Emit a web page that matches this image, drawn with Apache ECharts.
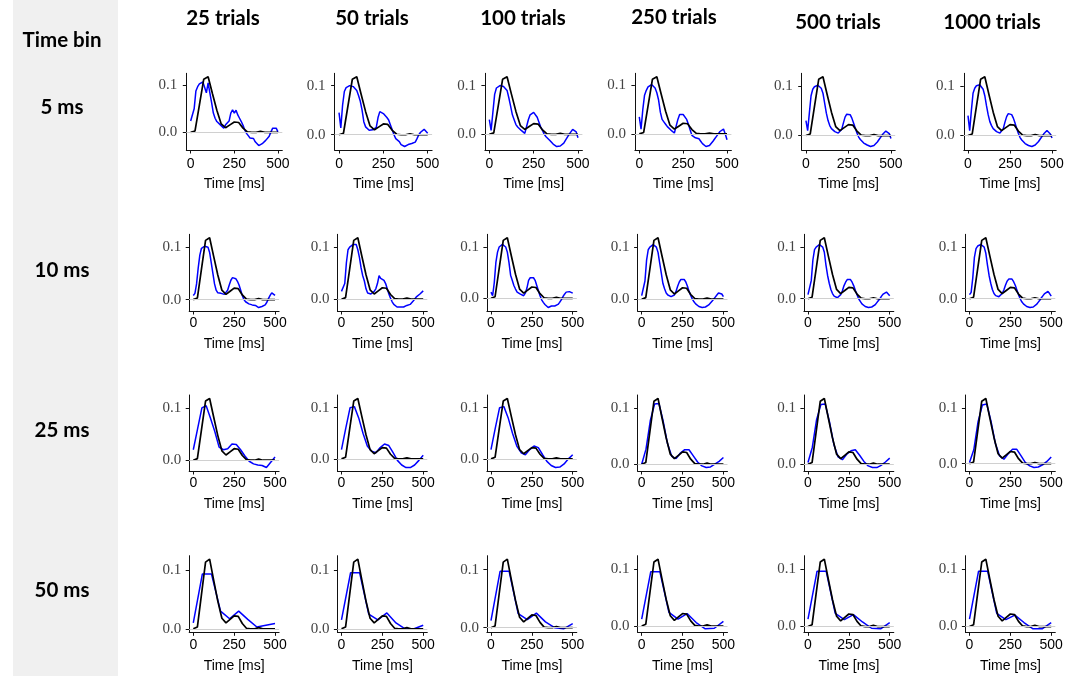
<!DOCTYPE html>
<html><head><meta charset="utf-8">
<script src="https://cdn.jsdelivr.net/npm/echarts@6/dist/echarts.min.js"></script>
<style>html,body{margin:0;padding:0;background:#fff}#c{width:1080px;height:676px}</style>
</head><body><div id="c"></div><script>
// ---------- data ----------
const columnTitles = ['25 trials', '50 trials', '100 trials', '250 trials', '500 trials', '1000 trials'];
const rowTitles = ['5 ms', '10 ms', '25 ms', '50 ms'];
const cornerTitle = 'Time bin';
const xAxisName = 'Time [ms]';
const xTickValues = [0, 250, 500];
const yTickValues = [0, 0.1];

const kernelTimes = [0, 25, 50, 75, 100, 125, 150, 175, 200, 225, 250, 275, 300, 325, 350, 375, 400, 425, 450, 475, 500];
const trueKernel = [0, 0.003, 0.058, 0.113, 0.118, 0.082, 0.047, 0.018, 0.010, 0.016, 0.022, 0.021, 0.009, 0.001, 0.000, 0.000, 0.002, 0.000, 0.000, 0.000, 0.000];

const times10 = Array.from({length: 51}, (_, k) => k * 10);
const times25 = [0, 26.3, 52.6, 78.9, 105.3, 131.6, 157.9, 184.2, 210.5, 236.8, 263.2, 289.5, 315.8, 342.1, 368.4, 394.7, 421.1, 447.4, 473.7, 500];
const times50 = [0, 55.6, 111.1, 166.7, 222.2, 277.8, 333.3, 388.9, 444.4, 500];

// 5 ms bins
const bin5_25 = [0.024, 0.023, 0.05, 0.088, 0.097, 0.103, 0.105, 0.107, 0.11, 0.084,
  0.105, 0.084, 0.063, 0.041, 0.03, 0.023, 0.019, 0.016, 0.012, 0.009,
  0.016, 0.02, 0.024, 0.041, 0.048, 0.041, 0.047, 0.037, 0.03, 0.023,
  0.015, 0.005, -0.002, -0.007, -0.012, -0.015, -0.013, -0.02, -0.022, -0.028,
  -0.03, -0.024, -0.02, -0.017, -0.013, -0.008, 0.001, 0.009, 0.009, 0.009, 0.001];
const bin5_50 = [0.045, 0.014, 0.06, 0.088, 0.096, 0.1, 0.1, 0.101, 0.098, 0.095,
  0.09, 0.08, 0.068, 0.05, 0.026, 0.016, 0.012, 0.009, 0.009, 0.01,
  0.012, 0.015, 0.035, 0.047, 0.045, 0.043, 0.04, 0.035, 0.03, 0.02,
  0.01, 0.0, -0.008, -0.01, -0.014, -0.02, -0.018, -0.024, -0.02, -0.02,
  -0.021, -0.018, -0.02, -0.015, -0.008, 0.0, 0.005, 0.009, 0.011, 0.012, 0.003];
const bin5_100 = [0.03, 0.008, 0.045, 0.082, 0.095, 0.098, 0.1, 0.1, 0.098, 0.095,
  0.09, 0.075, 0.058, 0.04, 0.03, 0.02, 0.015, 0.012, 0.008, 0.005,
  0.002, 0.0, 0.03, 0.04, 0.042, 0.045, 0.043, 0.035, 0.025, 0.015,
  0.008, 0.0, -0.005, -0.008, -0.012, -0.015, -0.02, -0.024, -0.025, -0.025,
  -0.024, -0.02, -0.018, -0.012, -0.008, 0.0, 0.005, 0.01, 0.012, 0.005, -0.007];
const bin5_250 = [0.035, 0.01, 0.05, 0.08, 0.09, 0.097, 0.1, 0.102, 0.1, 0.095,
  0.085, 0.07, 0.045, 0.03, 0.025, 0.02, 0.015, 0.012, 0.008, 0.005,
  0.002, 0.005, 0.03, 0.04, 0.043, 0.04, 0.038, 0.03, 0.02, 0.008,
  -0.003, -0.006, -0.008, -0.01, -0.01, -0.015, -0.02, -0.024, -0.026, -0.026,
  -0.024, -0.02, -0.015, -0.01, -0.005, 0.0, 0.005, 0.008, 0.01, 0.0, -0.012];
const bin5_500 = [0.03, 0.01, 0.045, 0.08, 0.093, 0.098, 0.1, 0.101, 0.1, 0.095,
  0.085, 0.065, 0.045, 0.03, 0.02, 0.014, 0.01, 0.008, 0.006, 0.005,
  0.006, 0.012, 0.025, 0.037, 0.043, 0.045, 0.042, 0.035, 0.025, 0.015,
  0.005, -0.003, -0.008, -0.012, -0.015, -0.017, -0.019, -0.021, -0.022, -0.022,
  -0.02, -0.017, -0.013, -0.008, -0.003, 0.002, 0.006, 0.009, 0.01, 0.004, -0.006];
const bin5_1000 = [0.04, 0.01, 0.05, 0.085, 0.095, 0.1, 0.101, 0.102, 0.1, 0.093,
  0.08, 0.06, 0.042, 0.028, 0.02, 0.014, 0.01, 0.008, 0.006, 0.005,
  0.007, 0.014, 0.027, 0.038, 0.044, 0.045, 0.042, 0.035, 0.025, 0.014,
  0.004, -0.004, -0.009, -0.013, -0.016, -0.018, -0.02, -0.021, -0.022, -0.021,
  -0.019, -0.016, -0.012, -0.007, -0.002, 0.003, 0.007, 0.01, 0.01, 0.003, -0.005];

// 10 ms bins
const bin10_25 = [0.008, 0.012, 0.03, 0.06, 0.085, 0.098, 0.1, 0.102, 0.104, 0.1,
  0.09, 0.07, 0.05, 0.03, 0.018, 0.013, 0.013, 0.012, 0.012, 0.01,
  0.012, 0.018, 0.028, 0.037, 0.042, 0.043, 0.04, 0.035, 0.028, 0.018,
  0.008, 0.0, -0.004, -0.007, -0.008, -0.01, -0.01, -0.01, -0.011, -0.013,
  -0.015, -0.014, -0.013, -0.012, -0.01, -0.005, 0.002, 0.008, 0.013, 0.012, 0.008];
const bin10_50 = [0.015, 0.015, 0.03, 0.07, 0.095, 0.1, 0.102, 0.105, 0.106, 0.105,
  0.095, 0.08, 0.06, 0.045, 0.035, 0.02, 0.012, 0.01, 0.01, 0.012,
  0.015, 0.02, 0.03, 0.045, 0.04, 0.04, 0.036, 0.03, 0.02, 0.01,
  0.002, -0.005, -0.01, -0.012, -0.015, -0.015, -0.015, -0.016, -0.015, -0.013,
  -0.012, -0.01, -0.01, -0.007, -0.003, 0.0, 0.005, 0.008, 0.01, 0.013, 0.016];
const bin10_100 = [0.012, 0.005, 0.03, 0.07, 0.09, 0.1, 0.103, 0.105, 0.104, 0.1,
  0.09, 0.07, 0.045, 0.035, 0.025, 0.018, 0.012, 0.01, 0.008, 0.005,
  0.005, 0.01, 0.02, 0.035, 0.04, 0.042, 0.04, 0.035, 0.025, 0.015,
  0.005, -0.003, -0.008, -0.012, -0.015, -0.018, -0.017, -0.015, -0.016, -0.015,
  -0.015, -0.012, -0.008, -0.003, 0.003, 0.008, 0.012, 0.015, 0.013, 0.01, 0.01];
const bin10_250 = [0.007, 0.01, 0.035, 0.075, 0.095, 0.1, 0.102, 0.105, 0.106, 0.1,
  0.09, 0.07, 0.05, 0.03, 0.02, 0.012, 0.008, 0.006, 0.005, 0.005,
  0.008, 0.015, 0.025, 0.033, 0.038, 0.04, 0.038, 0.033, 0.025, 0.015,
  0.007, 0.0, -0.005, -0.009, -0.012, -0.014, -0.015, -0.016, -0.016, -0.015,
  -0.013, -0.011, -0.008, -0.004, 0.0, 0.004, 0.008, 0.012, 0.013, 0.01, 0.005];
const bin10_500 = [0.008, 0.01, 0.035, 0.075, 0.095, 0.1, 0.103, 0.105, 0.106, 0.1,
  0.09, 0.065, 0.045, 0.03, 0.018, 0.01, 0.005, 0.003, 0.002, 0.004,
  0.008, 0.015, 0.025, 0.032, 0.037, 0.039, 0.037, 0.032, 0.025, 0.016,
  0.008, 0.0, -0.005, -0.01, -0.013, -0.015, -0.016, -0.017, -0.017, -0.016,
  -0.015, -0.012, -0.008, -0.004, 0.0, 0.005, 0.009, 0.012, 0.013, 0.01, 0.006];
const bin10_1000 = [0.008, 0.012, 0.04, 0.08, 0.097, 0.102, 0.104, 0.105, 0.105, 0.1,
  0.088, 0.065, 0.045, 0.03, 0.018, 0.01, 0.006, 0.004, 0.004, 0.006,
  0.01, 0.017, 0.026, 0.034, 0.038, 0.04, 0.038, 0.033, 0.026, 0.017,
  0.008, 0.0, -0.006, -0.01, -0.013, -0.015, -0.016, -0.017, -0.017, -0.016,
  -0.014, -0.011, -0.007, -0.003, 0.002, 0.006, 0.01, 0.013, 0.014, 0.01, 0.005];

// 25 ms bins
const bin25_25 = [0.02, 0.06, 0.1, 0.104, 0.08, 0.055, 0.025, 0.02, 0.022, 0.031, 0.03, 0.02, 0.008, -0.002, -0.007, -0.009, -0.01, -0.014, -0.004, 0.006];
const bin25_50 = [0.018, 0.06, 0.1, 0.102, 0.08, 0.05, 0.025, 0.015, 0.012, 0.022, 0.029, 0.026, 0.012, -0.003, -0.012, -0.017, -0.017, -0.012, -0.003, 0.007];
const bin25_100 = [0.018, 0.06, 0.1, 0.102, 0.08, 0.05, 0.025, 0.012, 0.008, 0.018, 0.025, 0.022, 0.008, -0.005, -0.013, -0.017, -0.016, -0.01, 0.0, 0.008];
const bin25_250 = [0.0, 0.027, 0.078, 0.108, 0.109, 0.077, 0.037, 0.014, 0.01, 0.02, 0.026, 0.026, 0.015, 0.004, -0.003, -0.006, -0.005, 0.0, 0.005, 0.012];
const bin25_500 = [0.003, 0.03, 0.08, 0.107, 0.108, 0.076, 0.036, 0.013, 0.008, 0.018, 0.024, 0.026, 0.016, 0.005, -0.003, -0.006, -0.006, -0.002, 0.004, 0.011];
const bin25_1000 = [0.002, 0.025, 0.076, 0.106, 0.108, 0.077, 0.037, 0.014, 0.008, 0.018, 0.026, 0.026, 0.014, 0.002, -0.004, -0.007, -0.006, -0.002, 0.004, 0.012];

// 50 ms bins
const bin50_25 = [0.01, 0.093, 0.093, 0.03, 0.017, 0.03, 0.016, 0.003, 0.006, 0.009];
const bin50_50 = [0.015, 0.095, 0.095, 0.025, 0.015, 0.027, 0.01, 0.0, 0.0, 0.006];
const bin50_100 = [0.012, 0.097, 0.097, 0.024, 0.014, 0.025, 0.01, 0.0, -0.002, 0.007];
const bin50_250 = [0.012, 0.096, 0.096, 0.024, 0.012, 0.022, 0.006, -0.005, -0.004, 0.008];
const bin50_500 = [0.013, 0.097, 0.097, 0.023, 0.012, 0.021, 0.008, -0.003, -0.004, 0.007];
const bin50_1000 = [0.013, 0.097, 0.097, 0.023, 0.012, 0.02, 0.007, -0.004, -0.004, 0.007];

const rowTimes = [times10, times10, times25, times50];
const estimates = [
  [bin5_25, bin5_50, bin5_100, bin5_250, bin5_500, bin5_1000],
  [bin10_25, bin10_50, bin10_100, bin10_250, bin10_500, bin10_1000],
  [bin25_25, bin25_50, bin25_100, bin25_250, bin25_500, bin25_1000],
  [bin50_25, bin50_50, bin50_100, bin50_250, bin50_500, bin50_1000]
];

// ---------- layout ----------
const rowTop = [73.3, 234.3, 395, 555.7];
const rowHeight = [76.7, 76.7, 76, 76.6];
const colLeft = [
  [186.3, 334.6, 484.9, 634.9, 801.7, 963.8],
  [189.2, 337.4, 486.9, 637.6, 803.9, 965.4],
  [189.2, 337.4, 486.9, 637.6, 803.9, 965.4],
  [189.2, 337.4, 486.9, 637.6, 803.9, 965.4]
];
const colWidth = [
  [96, 97.5, 97.5, 96.5, 93.5, 92.4],
  [89.9, 89.9, 89.9, 89.9, 89.9, 89.9],
  [89.9, 89.9, 89.9, 89.9, 89.9, 89.9],
  [89.9, 89.9, 89.9, 89.9, 89.9, 89.9]
];
const xLabelMargin = [7, 5.5, 5.5, 5.5];
const xNameGap = [27, 26.5, 26.5, 26.5];
const yLabelMargin = [9, 8, 8, 8];
const colTitlePos = [[223, 18], [372, 18], [523, 18], [674, 17], [838, 22], [992, 22]];
const rowTitleY = [107, 270, 430, 590];

const grid = [], xAxis = [], yAxis = [], series = [];
const pad = v => 0.05 * (v.max - v.min);
for (let r = 0; r < 4; r++) {
  for (let c = 0; c < 6; c++) {
    const i = r * 6 + c;
    grid.push({left: colLeft[r][c], top: rowTop[r], width: colWidth[r][c], height: rowHeight[r]});
    xAxis.push({
      type: 'value', gridIndex: i, min: -25, max: 525,
      name: xAxisName, nameLocation: 'middle', nameGap: xNameGap[r],
      nameTextStyle: {fontFamily: 'Liberation Sans', fontSize: 14, color: '#000'},
      axisLine: {show: true, onZero: false, lineStyle: {color: '#111', width: 1}},
      axisTick: {show: true, inside: false, length: 3.5, customValues: xTickValues, lineStyle: {color: '#111', width: 1}},
      axisLabel: {show: true, customValues: xTickValues, margin: xLabelMargin[r], fontFamily: 'Liberation Sans', fontSize: 14, color: '#000'},
      splitLine: {show: false}
    });
    yAxis.push({
      type: 'value', gridIndex: i,
      min: v => v.min - pad(v), max: v => v.max + pad(v),
      axisLine: {show: true, onZero: false, lineStyle: {color: '#111', width: 1}},
      axisTick: {show: true, inside: false, length: 3.5, customValues: yTickValues, lineStyle: {color: '#111', width: 1}},
      axisLabel: {show: true, customValues: yTickValues, margin: yLabelMargin[r], formatter: v => v.toFixed(1), fontFamily: 'Liberation Serif', fontSize: 15, color: '#444'},
      splitLine: {show: false}
    });
    const kernelData = kernelTimes.map((t, k) => [t, trueKernel[k]]);
    series.push({
      type: 'line', xAxisIndex: i, yAxisIndex: i, data: kernelData, symbol: 'none', silent: true, z: 1,
      lineStyle: {opacity: 0},
      markLine: {silent: true, symbol: ['none', 'none'], label: {show: false},
        lineStyle: {color: '#d0d0d0', width: 1, type: 'solid'}, data: [{yAxis: 0}], animation: false}
    });
    series.push({
      type: 'line', xAxisIndex: i, yAxisIndex: i, symbol: 'none', silent: true, z: 2,
      data: rowTimes[r].map((t, k) => [t, estimates[r][c][k]]),
      lineStyle: {color: '#0000ff', width: 1.5}
    });
    series.push({
      type: 'line', xAxisIndex: i, yAxisIndex: i, data: kernelData, symbol: 'none', silent: true, z: 3,
      lineStyle: {color: '#000', width: 1.7}
    });
  }
}

const textStyle = (text, x, y) => ({
  type: 'text', x: x, y: y, z: 10,
  style: {text: text, align: 'center', verticalAlign: 'middle', textAlign: 'center', textVerticalAlign: 'middle',
    fontFamily: 'Lato', fontWeight: 'bold', fontSize: 20.5, fill: '#000'}
});
const graphic = [{type: 'rect', z: -10, shape: {x: 13, y: 0, width: 105, height: 676}, style: {fill: '#f0f0f0'}}];
graphic.push(textStyle(cornerTitle, 62, 40));
rowTitles.forEach((t, r) => graphic.push(textStyle(t, 62, rowTitleY[r])));
columnTitles.forEach((t, c) => graphic.push(textStyle(t, colTitlePos[c][0], colTitlePos[c][1])));

const chart = echarts.init(document.getElementById('c'), null, {renderer: 'canvas'});
chart.setOption({animation: false, backgroundColor: '#fff', grid, xAxis, yAxis, series, graphic});
</script></body></html>
